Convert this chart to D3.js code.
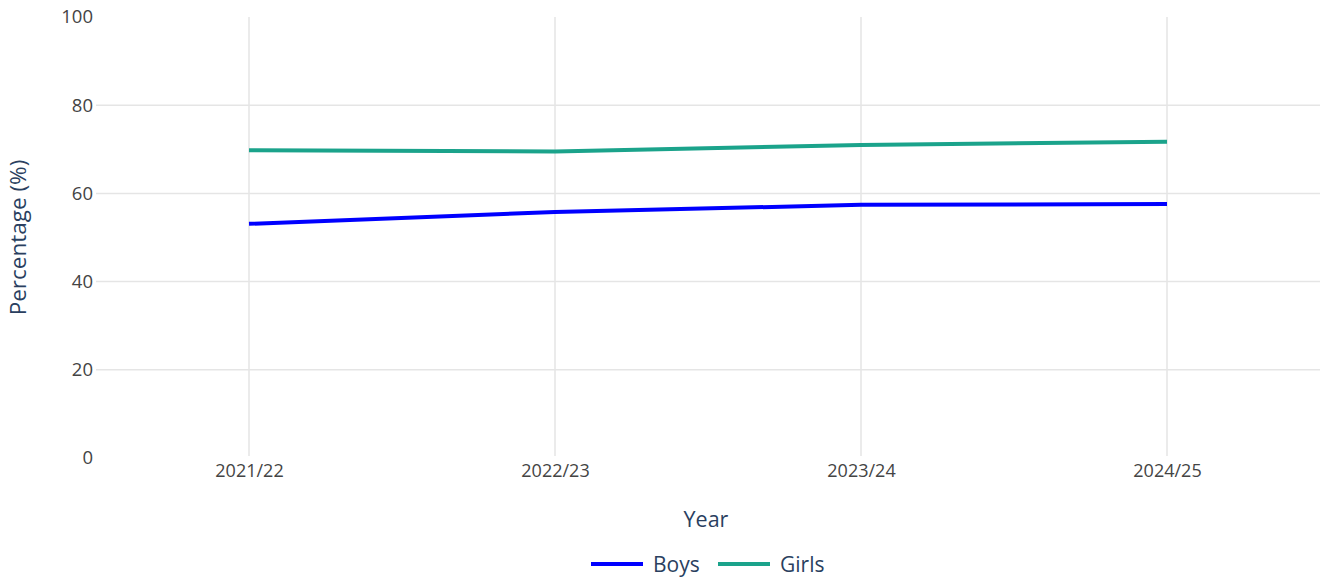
<html>
<head>
<script src="https://d3js.org/d3.v7.min.js"></script>
<style>
  body { margin: 0; background: #fff; }
  text { font-family: "Open Sans", sans-serif; }
</style>
</head>
<body>
<div id="chart"></div>
<script>
// chart data
const years = ["2021/22", "2022/23", "2023/24", "2024/25"];
const boys = [53.1, 55.8, 57.4, 57.6];
const girls = [69.8, 69.5, 71.0, 71.7];
const yTicks = [0, 20, 40, 60, 80, 100];

const seriesNames = ["Boys", "Girls"];
const seriesColors = ["#0000ff", "#1ba38b"];

const W = 1326, H = 581;
const margin = { top: 17, right: 6, bottom: 123, left: 96 };
const width = W - margin.left - margin.right,
      height = H - margin.top - margin.bottom;

const svg = d3.select("#chart").append("svg")
  .attr("width", W).attr("height", H);

const g = svg.append("g")
  .attr("transform", "translate(" + margin.left + "," + margin.top + ")");

const x = d3.scalePoint().domain(years).range([0, width]).padding(0.5);
const y = d3.scaleLinear().domain([0, 100]).range([height, 0]);

// grid lines (skip the edges, like the original)
g.selectAll(".hgrid").data(yTicks.filter(t => t > 0 && t < 100)).enter()
  .append("line")
  .attr("x1", 0).attr("x2", width)
  .attr("y1", d => y(d)).attr("y2", d => y(d))
  .attr("stroke", "#e5e5e5").attr("stroke-width", 1.5);

g.selectAll(".vgrid").data(years).enter()
  .append("line")
  .attr("x1", d => x(d)).attr("x2", d => x(d))
  .attr("y1", 0).attr("y2", height - 2)
  .attr("stroke", "#e5e5e5").attr("stroke-width", 1.5);

// axes
const yAxis = g.append("g")
  .call(d3.axisLeft(y).tickValues(yTicks).tickSize(0).tickPadding(3));
yAxis.select(".domain").remove();
yAxis.selectAll("text")
  .style("font-size", "18.5px").attr("fill", "#444")
  .attr("font-family", "'Open Sans', sans-serif");

const xAxis = g.append("g")
  .attr("transform", "translate(0," + height + ")")
  .call(d3.axisBottom(x).tickSize(0).tickPadding(6));
xAxis.select(".domain").remove();
xAxis.selectAll("text")
  .style("font-size", "18px").attr("fill", "#444")
  .attr("font-family", "'Open Sans', sans-serif");

// axis titles
svg.append("text")
  .attr("transform", "translate(26," + (margin.top + height / 2) + ") rotate(-90)")
  .attr("text-anchor", "middle")
  .style("font-size", "22.5px").attr("fill", "#2a3f5f")
  .text("Percentage (%)");

svg.append("text")
  .attr("x", margin.left + width / 2 - 2).attr("y", 527)
  .attr("text-anchor", "middle")
  .style("font-size", "21.5px").attr("fill", "#2a3f5f")
  .text("Year");

// lines
const line = d3.line().x((d, i) => x(years[i])).y(d => y(d));
[boys, girls].forEach((vals, k) => {
  g.append("path")
    .datum(vals)
    .attr("fill", "none")
    .attr("stroke", seriesColors[k])
    .attr("stroke-width", 4)
    .attr("d", line);
});

// legend
const legendX = [591, 718];
const legend = svg.append("g");
seriesNames.forEach((name, k) => {
  legend.append("line")
    .attr("x1", legendX[k]).attr("x2", legendX[k] + 52)
    .attr("y1", 564).attr("y2", 564)
    .attr("stroke", seriesColors[k]).attr("stroke-width", 4);
  legend.append("text")
    .attr("x", legendX[k] + 62).attr("y", 572)
    .style("font-size", "21px").attr("fill", "#2a3f5f")
    .text(name);
});
</script>
</body>
</html>
